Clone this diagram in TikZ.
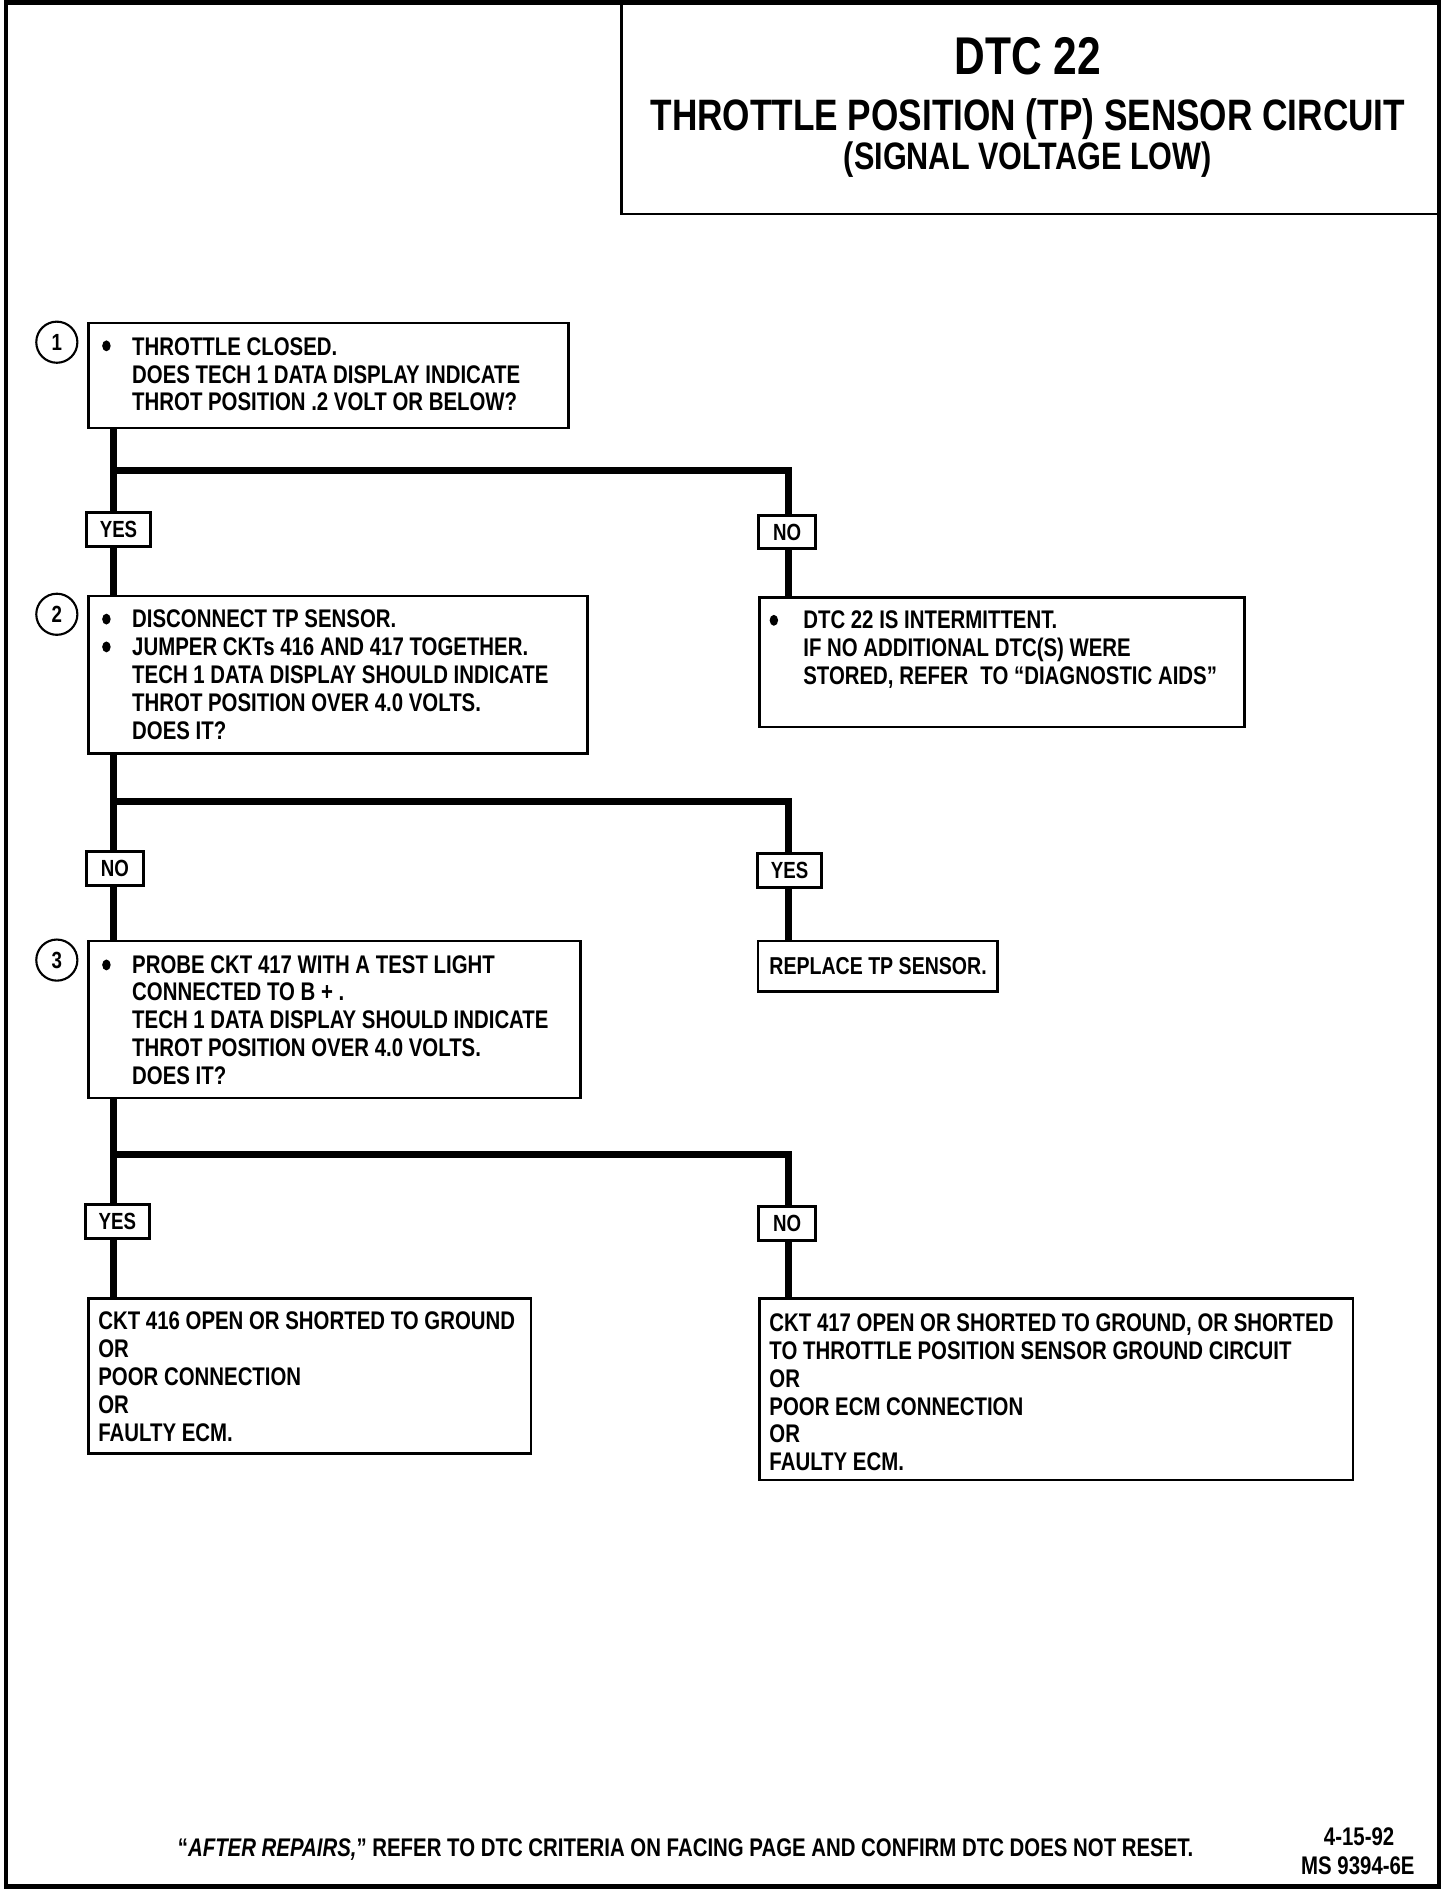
\documentclass[tikz,border=0pt]{standalone}
\usepackage{fontspec}
\newfontfamily\gm{Liberation Sans}[FakeStretch=0.8]
\newcommand\bodyf{\gm\bfseries\fontsize{12}{13.1}\selectfont}
\newcommand\nb[1]{\hspace*{#1}}
\begin{document}
\begin{tikzpicture}[x=0.2mm,y=-0.2mm,
  frame/.style={draw, rectangle, line width=0.42mm, inner sep=0pt, anchor=north west},
  txt/.style={inner sep=0pt, align=left, anchor=west, font=\bodyf},
  lbl/.style={draw, rectangle, line width=0.5mm, fill=white, inner sep=0pt,
              minimum height=5.6mm, font=\gm\bfseries\fontsize{11}{12}\selectfont},
  num/.style={draw, circle, line width=0.35mm, minimum size=6.8mm, inner sep=0pt,
              font=\gm\bfseries\fontsize{11}{12}\selectfont},
  conn/.style={line width=1.2mm, line join=miter},
  dot/.style={fill=black},
  title/.style={inner sep=0pt, anchor=base, font=\gm\bfseries}]
\useasboundingbox (0,0) rectangle (1204,1568);
% page frame and title box
\draw[line width=0.8mm] (5,2) rectangle (1190,1560);
\draw[line width=0.45mm] (514,2) rectangle (1190,177);
\node[title, font=\gm\bfseries\fontsize{25}{28}\selectfont] (t0) at (850,62) {DTC 22};
\node[title, font=\gm\bfseries\fontsize{20.7}{24}\selectfont] (t1) at (850,108) {THROTTLE POSITION (TP) SENSOR CIRCUIT};
\node[title, font=\gm\bfseries\fontsize{18}{22}\selectfont] (t2) at (850,140) {(SIGNAL VOLTAGE LOW)};

% frames
\node[frame, minimum width=79.4mm, minimum height=17.4mm] (b1) at (72,266) {};
\node[frame, minimum width=82.6mm, minimum height=26mm] (b2) at (72,492) {};
\node[frame, minimum width=80.2mm, minimum height=21.4mm] (bn1) at (627,493) {};
\node[frame, minimum width=81.4mm, minimum height=26mm] (b3) at (72,777) {};
\node[frame, minimum width=39.6mm, minimum height=8.4mm] (br) at (626,777) {};
\node[frame, minimum width=73.2mm, minimum height=25.6mm] (by3) at (72,1073) {};
\node[frame, minimum width=98.2mm, minimum height=30mm] (bn3) at (627,1073) {};

% texts
\node[txt] (x1) at (109,309.5) {THROTTLE CLOSED.\\
DOES TECH 1 DATA DISPLAY INDICATE\\
THROT POSITION .2 VOLT OR BELOW?};
\node[txt] (x2) at (109,558) {DISCONNECT TP SENSOR.\\
JUMPER CKTs 416 AND 417 TOGETHER.\\
TECH 1 DATA DISPLAY SHOULD INDICATE\\
THROT POSITION OVER 4.0 VOLTS.\\
DOES IT?};
\node[txt] (xn1) at (664,537) {DTC 22 IS INTERMITTENT.\\
IF NO ADDITIONAL DTC(S) WERE\\
STORED, REFER\hspace{0.25em} TO “DIAGNOSTIC AIDS”};
\node[txt] (x3) at (109,843.5) {PROBE CKT 417 WITH A TEST LIGHT\\
CONNECTED TO B + .\\
TECH 1 DATA DISPLAY SHOULD INDICATE\\
THROT POSITION OVER 4.0 VOLTS.\\
DOES IT?};
\node[txt, font=\gm\bfseries\fontsize{11.5}{13.1}\selectfont] (xr) at (636,799) {REPLACE TP SENSOR.};
\node[txt] (xy3) at (81,1138.5) {CKT 416 OPEN OR SHORTED TO GROUND\\
OR\\
POOR CONNECTION\\
OR\\
FAULTY ECM.};
\node[txt] (xn3) at (636,1151.5) {CKT 417 OPEN OR SHORTED TO GROUND, OR SHORTED\\
TO THROTTLE POSITION SENSOR GROUND CIRCUIT\\
OR\\
POOR ECM CONNECTION\\
OR\\
FAULTY ECM.};

% bullets
\fill[dot] (88,286) ellipse [x radius=3.5, y radius=4.5];
\fill[dot] (88,512) ellipse [x radius=3.5, y radius=4.5];
\fill[dot] (88,535) ellipse [x radius=3.5, y radius=4.5];
\fill[dot] (640,513) ellipse [x radius=3.5, y radius=4.5];
\fill[dot] (88,798) ellipse [x radius=3.5, y radius=4.5];

% step numbers
\node[num] (c1) at (47,283) {1};
\node[num] (c2) at (47,508) {2};
\node[num] (c3) at (47,794) {3};

% connector junctions
\coordinate (j1) at (94,389);
\coordinate (k1) at (652,389);
\coordinate (j2) at (94,663);
\coordinate (k2) at (652,663);
\coordinate (j3) at (94,955);
\coordinate (k3) at (652,955);

\draw[conn] (j1 |- b1.south) -- (j1 |- b2.north);
\draw[conn] (j1) -| (k1 |- bn1.north);
\draw[conn] (j2 |- b2.south) -- (j2 |- b3.north);
\draw[conn] (j2) -| (k2 |- br.north);
\draw[conn] (j3 |- b3.south) -- (j3 |- by3.north);
\draw[conn] (j3) -| (k3 |- bn3.north);

% yes / no labels
\node[lbl, minimum width=10.6mm] (y1) at (98,438) {YES};
\node[lbl, minimum width=9.4mm] (n1) at (651,440) {NO};
\node[lbl, minimum width=9.4mm] (n2) at (95,718) {NO};
\node[lbl, minimum width=10.6mm] (y2) at (653,720) {YES};
\node[lbl, minimum width=10.6mm] (y3) at (97,1010) {YES};
\node[lbl, minimum width=9.4mm] (n3) at (651,1012) {NO};

% footer
\node[title, font=\bodyf] (f1) at (567,1535) {“\textit{AFTER REPAIRS,}” REFER TO DTC CRITERIA ON FACING PAGE AND CONFIRM DTC DOES NOT RESET.};
\node[title, font=\bodyf] (f2) at (1124,1526) {4-15-92};
\node[title, font=\bodyf] (f3) at (1123,1550) {MS 9394-6E};
\end{tikzpicture}
\end{document}
